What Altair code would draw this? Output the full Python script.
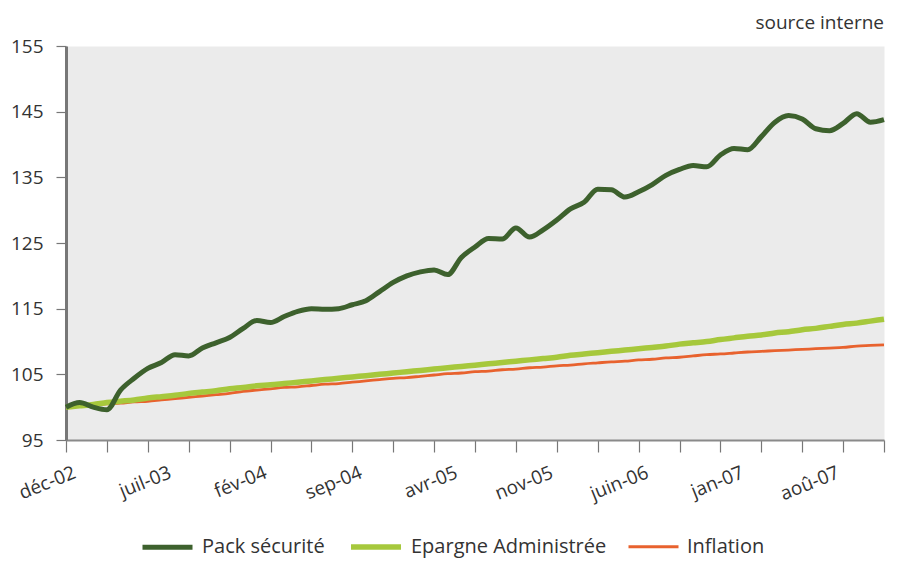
import altair as alt
import pandas as pd

# month index 0 = déc-02 ... 60 = déc-07
months = list(range(61))

pack = [100.0, 100.7, 100.0, 99.6, 102.6, 104.4, 105.9, 106.8, 108.0, 107.8,
        109.0, 109.8, 110.6, 112.0, 113.2, 112.9, 113.8, 114.6, 115.0, 114.9,
        115.0, 115.6, 116.2, 117.6, 119.0, 120.0, 120.6, 120.9, 120.2, 122.8,
        124.4, 125.7, 125.6, 127.3, 125.9, 127.0, 128.5, 130.2, 131.2, 133.2,
        133.1, 132.0, 132.8, 133.9, 135.3, 136.2, 136.8, 136.6, 138.4, 139.4,
        139.2, 141.2, 143.4, 144.4, 143.9, 142.4, 142.1, 143.2, 144.7, 143.4,
        143.8]

epargne = [100.0, 100.2, 100.4, 100.7, 100.9, 101.1, 101.4, 101.6, 101.8, 102.1,
           102.3, 102.5, 102.8, 103.0, 103.25, 103.4, 103.6, 103.8, 104.0, 104.2,
           104.4, 104.6, 104.8, 105.0, 105.2, 105.4, 105.6, 105.8, 106.0, 106.2,
           106.4, 106.6, 106.8, 107.0, 107.2, 107.4, 107.6, 107.9, 108.1, 108.3,
           108.5, 108.7, 108.9, 109.1, 109.3, 109.6, 109.8, 110.0, 110.3, 110.55,
           110.8, 111.0, 111.3, 111.5, 111.8, 112.0, 112.3, 112.6, 112.8, 113.1,
           113.4]

inflation = [100.0, 100.2, 100.3, 100.5, 100.6, 100.8, 100.9, 101.1, 101.3, 101.5,
             101.7, 101.9, 102.1, 102.4, 102.6, 102.8, 103.0, 103.1, 103.3, 103.5,
             103.6, 103.8, 104.0, 104.2, 104.4, 104.5, 104.7, 104.9, 105.1, 105.2,
             105.4, 105.5, 105.7, 105.8, 106.0, 106.1, 106.3, 106.4, 106.6, 106.75,
             106.9, 107.0, 107.2, 107.3, 107.5, 107.6, 107.8, 108.0, 108.1, 108.25,
             108.4, 108.5, 108.6, 108.7, 108.8, 108.9, 109.0, 109.1, 109.3, 109.4,
             109.5]

series_names = ["Pack sécurité", "Epargne Administrée", "Inflation"]
series_colors = ["#3d612d", "#a6c83c", "#e8622e"]
series_widths = [5, 5.5, 2.8]

tick_months = list(range(0, 61, 3))
label_months = [0, 7, 14, 21, 28, 35, 42, 49, 56]
label_texts = ["déc-02", "juil-03", "fév-04", "sep-04", "avr-05",
               "nov-05", "juin-06", "jan-07", "aoû-07"]
y_ticks = [95, 105, 115, 125, 135, 145, 155]

# draw order: inflation first, then epargne, then pack on top
rows = []
for name, vals in [("Inflation", inflation), ("Epargne Administrée", epargne), ("Pack sécurité", pack)]:
    for m, v in zip(months, vals):
        rows.append({"mois": m, "valeur": v, "serie": name})
df = pd.DataFrame(rows)

FONT = "Open Sans"

lm = "[" + ",".join(str(v) for v in label_months) + "]"
lt = "[" + ",".join("'" + t + "'" for t in label_texts) + "]"
label_expr = f"indexof({lm}, datum.value) >= 0 ? {lt}[indexof({lm}, datum.value)] : ''"

x_axis = alt.Axis(
    values=tick_months,
    ticks=True,
    labels=False,
    tickSize=12,
    tickColor="#777777",
    tickWidth=1.2,
    domainColor="#8a8a8a",
    domainWidth=2,
    grid=False,
    title=None,
)

x_label_axis = alt.Axis(
    values=label_months,
    labelExpr=label_expr,
    labelAngle=338,
    labelAlign="right",
    labelBaseline="top",
    labelFont=FONT,
    labelFontSize=19,
    labelColor="#333333",
    labelPadding=23,
    labelOffset=5,
    labelOverlap=False,
    labelFlush=False,
    ticks=False,
    domain=False,
    grid=False,
    title=None,
    orient="bottom",
)

y_axis = alt.Axis(
    values=y_ticks,
    labelFont=FONT,
    labelFontSize=19,
    labelColor="#333333",
    labelPadding=13,
    tickSize=10,
    tickColor="#777777",
    tickWidth=1.2,
    domainColor="#777777",
    domainWidth=3,
    grid=False,
    title=None,
)

x_scale = alt.Scale(domain=[0, 60], nice=False, zero=False)
y_scale = alt.Scale(domain=[95, 155], nice=False, zero=False)

lines = alt.Chart(df).mark_line(interpolate="monotone").encode(
    x=alt.X("mois:Q", scale=x_scale, axis=x_axis),
    y=alt.Y("valeur:Q", scale=y_scale, axis=y_axis),
    color=alt.Color("serie:N", scale=alt.Scale(domain=series_names, range=series_colors),
                    legend=alt.Legend(title=None)),
    strokeWidth=alt.StrokeWidth("serie:N",
                                scale=alt.Scale(type="ordinal", domain=series_names, range=series_widths),
                                legend=alt.Legend(title=None)),
)

# invisible layer that carries the month labels axis
label_layer = alt.Chart(df).mark_point(opacity=0, size=0).encode(
    x=alt.X("mois:Q", scale=x_scale, axis=x_label_axis),
    y=alt.Y("valeur:Q", scale=y_scale, axis=y_axis),
)

chart = alt.layer(lines, label_layer).resolve_axis(x="independent").properties(
    width=818,
    height=394,
    padding={"left": 2, "top": 6, "right": 0, "bottom": 0},
    title=alt.TitleParams("source interne", anchor="end", frame="group", font=FONT, fontSize=19,
                          fontWeight="normal", color="#333333", offset=4),
).configure_view(
    fill="#ebebeb", stroke="transparent"
).configure_legend(
    orient="none",
    legendX=89,
    legendY=488,
    direction="horizontal",
    symbolType="M-2.5,0H2.5",
    symbolSize=400,
    labelFont=FONT,
    labelFontSize=20,
    labelColor="#333333",
    labelOffset=22,
    labelLimit=400,
    columnPadding=15,
)

chart.save("out.html", embed_options={"renderer": "svg", "actions": False})
